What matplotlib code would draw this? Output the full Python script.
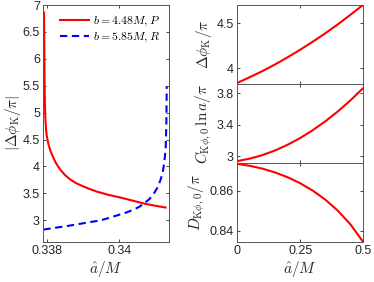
import numpy as np
import matplotlib; matplotlib.use('Agg')
import matplotlib.pyplot as plt

plt.rcParams['font.family'] = ['Liberation Sans', 'DejaVu Sans']
plt.rcParams['mathtext.fontset'] = 'cm'

# ── data ─────────────────────────────────────────────────────────────────────
a_red = [0.337925, 0.33793, 0.337937, 0.337947, 0.33796, 0.33798, 0.33800, 0.33805,
         0.33810, 0.33816, 0.33823, 0.33830, 0.33837, 0.33850, 0.33864, 0.33880,
         0.33901, 0.33920, 0.33938, 0.33970, 0.34003, 0.34035, 0.34067, 0.34097,
         0.34127]
v_red = [6.86, 6.30, 5.70, 5.20, 4.90, 4.68, 4.56, 4.40,
         4.29, 4.19, 4.09, 4.01, 3.94, 3.84, 3.76, 3.69,
         3.625, 3.575, 3.53, 3.47, 3.42, 3.365, 3.31, 3.27,
         3.235]
a_blue = [0.337906, 0.33820, 0.33855, 0.33890, 0.33920, 0.33947, 0.33970, 0.33994,
          0.34018, 0.34040, 0.34055, 0.34067, 0.34082, 0.34095, 0.34105, 0.34113,
          0.34119, 0.34123, 0.34127, 0.34129, 0.34130]
v_blue = [2.825, 2.855, 2.89, 2.93, 2.965, 2.995, 3.04, 3.09,
          3.14, 3.20, 3.25, 3.31, 3.39, 3.50, 3.61, 3.75,
          3.89, 4.06, 4.31, 4.80, 5.49]

a_hat = [0.0, 0.05, 0.1, 0.15, 0.2, 0.25, 0.3, 0.35, 0.4, 0.45, 0.5]
dphi = [3.84, 3.903, 3.970, 4.043, 4.122, 4.205, 4.294, 4.387, 4.486, 4.591, 4.70]
c_ln = [2.935, 2.967, 3.012, 3.071, 3.144, 3.230, 3.330, 3.443, 3.570, 3.711, 3.865]
d_k = [0.8735, 0.8725, 0.8711, 0.8692, 0.8668, 0.8638, 0.8601, 0.8556, 0.8500, 0.8432, 0.8345]

leg_labels = [r'$b=4.48M,P$', r'$b=5.85M,R$']

# ── figure ───────────────────────────────────────────────────────────────────
fig = plt.figure(figsize=(3.74, 2.82), dpi=100)
gc = '#262626'
lw = 1.5
fs = 9
lfs = 11

def style(ax):
    ax.tick_params(direction='in', length=2.5, width=0.6, top=True, right=True,
                   labelsize=fs, colors=gc, pad=2.5)
    for s in ax.spines.values():
        s.set_color('#555555'); s.set_linewidth(0.7)

ax = fig.add_axes([0.116, 0.143, 0.336, 0.839])
ax.plot(a_red, v_red, color='red', lw=lw, label=leg_labels[0])
ax.plot(a_blue, v_blue, color='blue', lw=lw, dashes=(3.5, 2.2), label=leg_labels[1])
ax.set_xlim(0.337906, 0.341364); ax.set_ylim(2.6, 7)
ax.set_xticks([0.338, 0.34]); ax.set_xticklabels(['0.338', '0.34'])
yt = [3, 3.5, 4, 4.5, 5, 5.5, 6, 6.5, 7]
ax.set_yticks(yt); ax.set_yticklabels(['3', '3.5', '4', '4.5', '5', '5.5', '6', '6.5', '7'])
ax.set_xlabel(r'$\hat{a}/M$', fontsize=lfs, color=gc, labelpad=1)
ax.set_ylabel(r'$|\Delta\phi_{\mathrm{K}}/\pi|$', fontsize=lfs, color=gc, labelpad=0)
style(ax)
ax.legend(loc='upper right', frameon=False, fontsize=8.5, handlelength=2.45,
          handletextpad=0.3, borderaxespad=0.4, labelspacing=0.25)

x0, w, h = 0.6345, 0.336, 0.2795
bottoms = [0.702, 0.4225, 0.143]
series = [dphi, c_ln, d_k]
ylims = [(3.827, 4.697), (2.913, 3.92), (0.8345, 0.874)]
yticks = [[4, 4.5], [3, 3.4, 3.8], [0.84, 0.86]]
ytl = [['4', '4.5'], ['3', '3.4', '3.8'], ['0.84', '0.86']]
ylabs = [r'$\Delta\phi_{\mathrm{K}}/\pi$', r'$C_{\mathrm{K}\phi,0}\,\ln a/\pi$',
         r'$D_{\mathrm{K}\phi,0}/\pi$']
for i in range(3):
    axr = fig.add_axes([x0, bottoms[i], w, h])
    axr.plot(a_hat, series[i], color='red', lw=lw)
    axr.set_xlim(0, 0.5); axr.set_ylim(*ylims[i])
    axr.set_xticks([0, 0.25, 0.5])
    axr.set_yticks(yticks[i]); axr.set_yticklabels(ytl[i])
    axr.set_ylabel(ylabs[i], fontsize=lfs, color=gc, labelpad=2)
    style(axr)
    if i < 2:
        axr.set_xticklabels([])
    else:
        axr.set_xticklabels(['0', '0.25', '0.5'])
        axr.set_xlabel(r'$\hat{a}/M$', fontsize=lfs, color=gc, labelpad=1)

fig.savefig('out.png', dpi=100)
